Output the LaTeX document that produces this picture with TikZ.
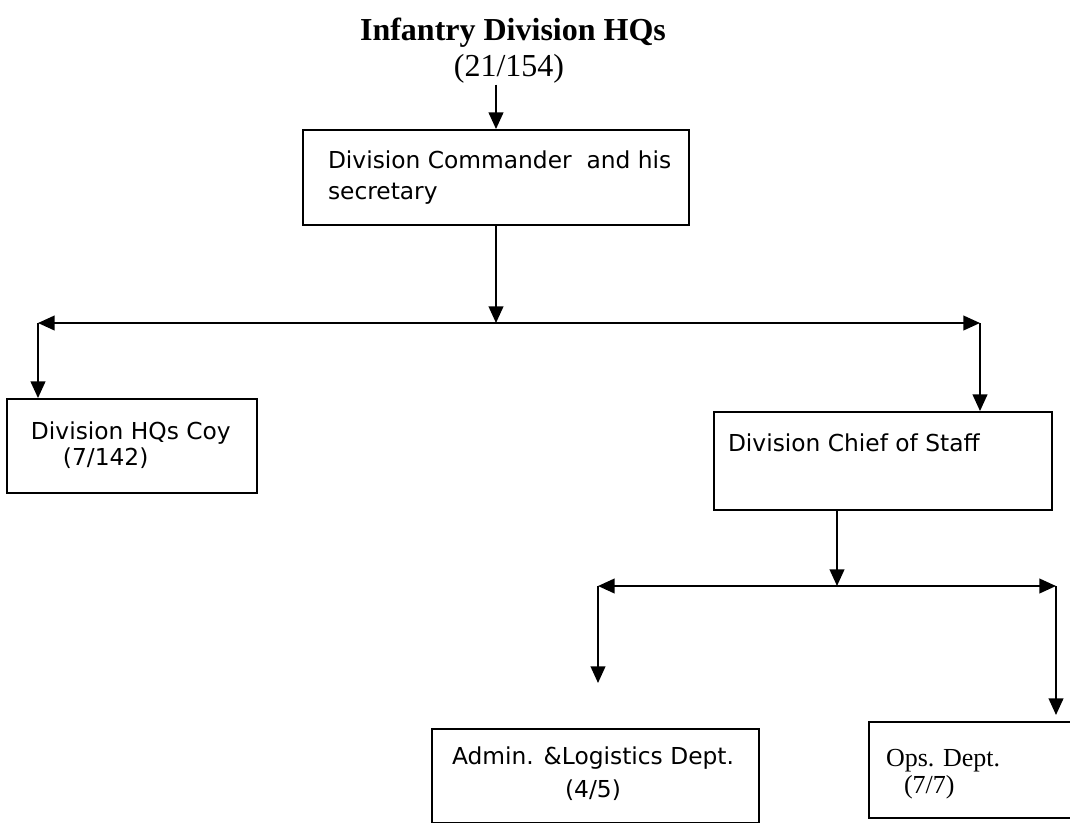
\documentclass[tikz,border=0pt]{standalone}
\usepackage{fontspec}
\setmainfont{Liberation Serif}
\newfontfamily\boxfont{DejaVu Sans}
\usetikzlibrary{arrows.meta,positioning,calc}

\begin{document}
\begin{tikzpicture}[x=0.75pt,y=-0.75pt,line width=1.5pt,>={Triangle[length=12.5pt,width=11pt]},
unit/.style={shape=rectangle,draw,line width=1.4pt,inner sep=0pt},
txt/.style={font=\boxfont\fontsize{17.5}{23.25}\selectfont,align=left,inner sep=0pt,anchor=west}]
\useasboundingbox (0,0) rectangle (1070,822);
% heading
\node[font=\bfseries\fontsize{24}{28}\selectfont] (HQ) at (513,33) {Infantry Division HQs};
\node[font=\fontsize{24}{28}\selectfont,inner sep=0pt] (N) at (509,69) {(21/154)};
% boxes
\node[unit,minimum width=289.5pt,minimum height=71.25pt] (DC) at (496,177.5) {};
\node[txt] (DCt) at (327,177.5) {Division Commander \ and his\\secretary};
\node[unit,minimum width=187.5pt,minimum height=70.5pt] (CO) at (132,446) {};
\node[txt,font=\boxfont\fontsize{17.5}{19.5}\selectfont] (COt) at (30,445) {Division HQs Coy\\\hspace*{24pt}(7/142)};
\node[unit,minimum width=253.5pt,minimum height=73.5pt] (CS) at (883,461) {};
\node[txt] (CSt) at (727,443) {Division Chief of Staff};
\node[unit,minimum width=245.25pt,minimum height=70.5pt] (AL) at (595.5,776) {};
\node[txt,anchor=center,align=center,font=\boxfont\fontsize{17.5}{24.75}\selectfont] (ALt) at (593,773.5) {Admin. \&Logistics Dept.\\(4/5)};
\node[unit,minimum width=162pt,minimum height=72pt] (OP) at (977,770) {};
\node[txt,font=\fontsize{19.5}{20.25}\selectfont] (OPt) at (885,774) {Ops. Dept.\\\hspace*{13.5pt}(7/7)};
% connectors
\coordinate (J1) at (496,323);
\coordinate (L1) at (38,323);
\coordinate (R1) at (980,323);
\coordinate (J2) at (837,586);
\coordinate (L2) at (598,586);
\coordinate (R2) at (1056,586);
\coordinate (A) at (598,683);
\coordinate (B) at (1056,715);
\draw[arrows=->] (N.south -| DC.north) -- (DC.north);
\draw[arrows=->] (DC.south) -- (J1);
\draw[arrows=<->] (L1) -- (R1);
\draw[arrows=->] (L1) -- (L1 |- CO.north);
\draw[arrows=->] (R1) -- (R1 |- CS.north);
\draw[arrows=->] (J2 |- CS.south) -- (J2);
\draw[arrows=<->] (L2) -- (R2);
\draw[arrows=->] (L2) -- (A);
\draw[arrows=->] (R2) -- (B);
\end{tikzpicture}
\end{document}
